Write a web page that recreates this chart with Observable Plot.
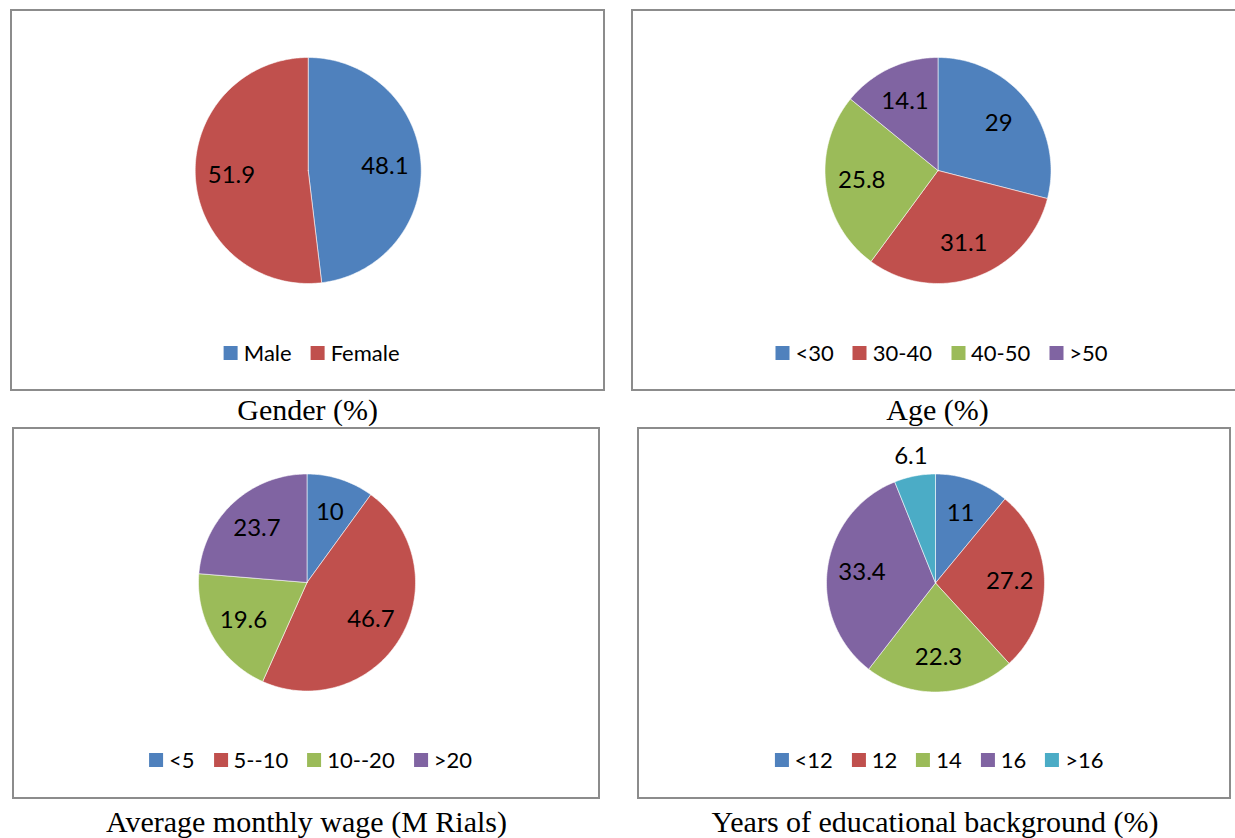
<!DOCTYPE html>
<html><head><meta charset="utf-8">
<script src="https://cdn.jsdelivr.net/npm/d3@7"></script>
<script src="https://cdn.jsdelivr.net/npm/@observablehq/plot@0.6"></script>
<style>
html,body{margin:0;padding:0;background:#fff;}
#page{position:relative;width:1235px;height:838px;overflow:hidden;background:#fff;}
.box{position:absolute;border:2px solid #8c8c8c;box-sizing:border-box;background:#fff;}
.plotwrap{position:absolute;}
.legend{position:absolute;display:flex;align-items:center;transform:translate(-50%,-50%);font-family:Lato,"Open Sans",sans-serif;font-size:22px;color:#000;line-height:1;white-space:nowrap;}
.item{display:flex;align-items:center;margin:0 9.5px;}
.sw{width:14px;height:14px;margin-right:6px;}
.cap{position:absolute;font-family:"Liberation Serif","Times New Roman",serif;font-size:30px;color:#000;transform:translate(-50%,-50%);white-space:nowrap;line-height:1;}
</style></head><body>
<div id="page"></div>
<script>
// ---- data ----
const colors = ["#4F81BD", "#C0504D", "#9BBB59", "#8064A2", "#4BACC6"];
const genderCats = ["Male", "Female"];
const genderVals = [48.1, 51.9];
const ageCats = ["<30", "30-40", "40-50", ">50"];
const ageVals = [29, 31.1, 25.8, 14.1];
const wageCats = ["<5", "5--10", "10--20", ">20"];
const wageVals = [10, 46.7, 19.6, 23.7];
const eduCats = ["<12", "12", "14", "16", ">16"];
const eduVals = [11, 27.2, 22.3, 33.4, 6.1];
const titles = ["Gender (%)", "Age (%)", "Average monthly wage (M Rials)", "Years of educational background (%)"];

// ---- layout ----
const panels = [
  {cats: genderCats, vals: genderVals, title: titles[0], box: [10, 9, 595, 382], cx: 307.7, cy: 170, r: 113, legY: 353, capY: 410},
  {cats: ageCats, vals: ageVals, title: titles[1], box: [631, 9, 620, 382], cx: 937.5, cy: 170, r: 113, legY: 353, capY: 410},
  {cats: wageCats, vals: wageVals, title: titles[2], box: [12, 427, 588, 372], cx: 306.5, cy: 582, r: 108.5, legY: 760, capY: 822},
  {cats: eduCats, vals: eduVals, title: titles[3], box: [637, 427, 594, 372], cx: 935, cy: 582.5, r: 109, legY: 760, capY: 822}
];

const page = document.getElementById("page");

panels.forEach(p => {
  const [bx, by, bw, bh] = p.box;
  const box = document.createElement("div");
  box.className = "box";
  Object.assign(box.style, {left: bx + "px", top: by + "px", width: bw + "px", height: bh + "px"});
  page.appendChild(box);

  // pie geometry in box-local pixel units
  const cx = p.cx - bx, cy = p.cy - by, r = p.r;
  const arcs = d3.pie().sort(null).value(d => d)(p.vals);
  const pts = [];
  const labels = [];
  arcs.forEach((a, i) => {
    const cat = p.cats[i];
    const n = Math.max(2, Math.ceil((a.endAngle - a.startAngle) / (Math.PI / 180)));
    pts.push({cat, x: cx, y: cy});
    for (let k = 0; k <= n; k++) {
      const t = a.startAngle + (a.endAngle - a.startAngle) * k / n;
      pts.push({cat, x: cx + r * Math.sin(t), y: cy - r * Math.cos(t)});
    }
    pts.push({cat, x: cx, y: cy});
    const mid = (a.startAngle + a.endAngle) / 2;
    const rr = p.vals[i] < 8 ? r + 20 : r * 0.68;
    labels.push({t: String(p.vals[i]), x: cx + rr * Math.sin(mid), y: cy - rr * Math.cos(mid)});
  });

  const chart = Plot.plot({
    width: bw, height: bh, margin: 0,
    x: {domain: [0, bw], range: [0, bw], axis: null},
    y: {domain: [0, bh], range: [0, bh], axis: null},
    color: {domain: p.cats, range: colors.slice(0, p.cats.length)},
    style: {background: "transparent", overflow: "visible"},
    marks: [
      Plot.line(pts, {x: "x", y: "y", z: "cat", fill: "cat", stroke: "white", strokeWidth: 0.8, strokeOpacity: 0.7, curve: "linear"}),
      Plot.text(labels, {x: "x", y: "y", text: "t", fontSize: 24, fontFamily: "Lato", fill: "black", textAnchor: "middle", lineAnchor: "middle"})
    ]
  });
  const wrap = document.createElement("div");
  wrap.className = "plotwrap";
  Object.assign(wrap.style, {left: bx + "px", top: by + "px", width: bw + "px", height: bh + "px"});
  wrap.appendChild(chart);
  page.appendChild(wrap);

  // legend
  const leg = document.createElement("div");
  leg.className = "legend";
  Object.assign(leg.style, {left: (p.cx + 4) + "px", top: p.legY + "px"});
  p.cats.forEach((c, i) => {
    const it = document.createElement("div");
    it.className = "item";
    const sw = document.createElement("div");
    sw.className = "sw";
    sw.style.background = colors[i];
    const tx = document.createElement("span");
    tx.textContent = c;
    it.appendChild(sw); it.appendChild(tx);
    leg.appendChild(it);
  });
  page.appendChild(leg);

  // caption
  const cap = document.createElement("div");
  cap.className = "cap";
  cap.textContent = p.title;
  Object.assign(cap.style, {left: p.cx + "px", top: p.capY + "px"});
  page.appendChild(cap);
});
</script>
</body></html>
